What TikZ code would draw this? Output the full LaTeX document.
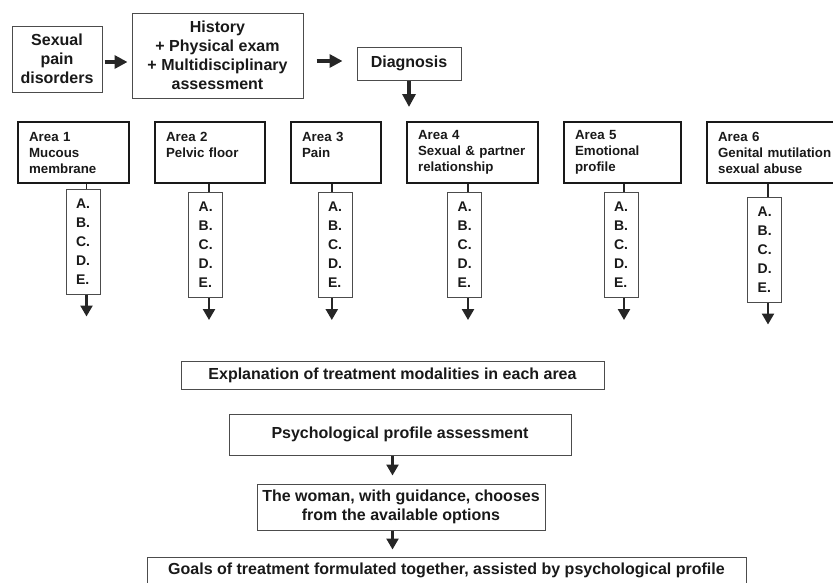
\documentclass[tikz,border=0pt]{standalone}
\usepackage{fontspec}
\setmainfont{Liberation Sans}
\usetikzlibrary{arrows.meta}

\tikzset{
  box/.style={draw=black!70, line width=1pt, inner sep=0pt, align=center, text=black!90,
    font=\bfseries\fontsize{16}{19}\selectfont},
  areabox/.style={draw=black!90, line width=2.2pt, inner xsep=11pt, inner ysep=0pt, align=left,
    anchor=north west, minimum height=61pt, text=black!90, font=\bfseries\fontsize{13.3}{16}\selectfont},
  letterbox/.style={draw=black!70, line width=1pt, minimum width=34pt, minimum height=105pt,
    inner sep=0pt, align=left, text=black!90, font=\bfseries\fontsize{14}{19}\selectfont},
  bigarrow/.style={draw=black!85, line width=4.5pt, -{Triangle[length=13pt,width=13pt]}},
  smallarrow/.style={draw=black!85, line width=2.4pt, -{Triangle[length=11pt,width=12pt]}},
}

\begin{document}
\begin{tikzpicture}[x=1pt, y=-1pt]
    \useasboundingbox (0,0) rectangle (833,582);
    % Top row
    \node[box, minimum width=90pt, minimum height=66pt] (spd) at (57,59) {Sexual\\pain\\disorders};
    \node[box, minimum width=171pt, minimum height=85pt] (hist) at (217.5,55.5)
        {History\\+ Physical exam\\+ Multidisciplinary\\assessment};
    \node[box, minimum width=104pt, minimum height=33pt] (diag) at (409,63.5) {Diagnosis};
    \draw[bigarrow, shorten <=2pt, shorten >=4pt] (spd.east |- 0,62) -- (hist.west |- 0,62);
    \draw[bigarrow, shorten <=13pt, shorten >=14pt] (hist.east |- 0,61) -- (diag.west |- 0,61);

    % Six areas with their options
    \foreach \n/\ax/\tw/\lx/\ly/\dx/\lbl in {
        1/17/89/83/241.5/3.5/{Area 1\\Mucous\\membrane},
        2/154/88/205.7/245/3.3/{Area 2\\Pelvic floor\\\mbox{}},
        3/290/68/335/245/-3.2/{Area 3\\Pain\\\mbox{}},
        4/406/109/464.7/245/3.3/{Area 4\\Sexual \& partner\\relationship},
        5/563/95/621/245/3/{Area 5\\Emotional\\profile},
        6/706/118/764.7/249.5/3.3/{Area 6\\Genital mutilation\\sexual abuse}}{
        \node[areabox, text width=\tw pt] (a\n) at (\ax,121) {\lbl};
        \node[letterbox] (l\n) at (\lx,\ly) {A.\\B.\\C.\\D.\\E.};
        \draw[draw=black!85, line width=1.8pt] ([xshift=\dx pt]l\n.north |- a\n.south) -- ([xshift=\dx pt]l\n.north);
        \draw[smallarrow] ([xshift=\dx pt]l\n.south) -- ++(0,22);
    }
    \draw[bigarrow, shorten >=14pt] (diag.south) -- (diag.south |- a4.north);

    % Bottom chain
    \node[box, minimum width=423pt, minimum height=28pt] (expl) at (392.5,375)
        {Explanation of treatment modalities in each area};
    \node[box, minimum width=342pt, minimum height=41pt] (psych) at (400,434.5)
        {Psychological profile assessment};
    \node[box, minimum width=288pt, minimum height=46pt] (woman) at (401,507)
        {The woman, with guidance, chooses\\from the available options};
    \node[box, minimum width=599pt, minimum height=27pt] (goals) at (446.5,570.5)
        {Goals of treatment formulated together, assisted by psychological profile};
    \draw[smallarrow, shorten >=8pt] (psych.south -| expl.south) -- (woman.north -| expl.south);
    \draw[smallarrow, shorten >=7pt] (woman.south -| expl.south) -- (goals.north -| expl.south);
\end{tikzpicture}
\end{document}
